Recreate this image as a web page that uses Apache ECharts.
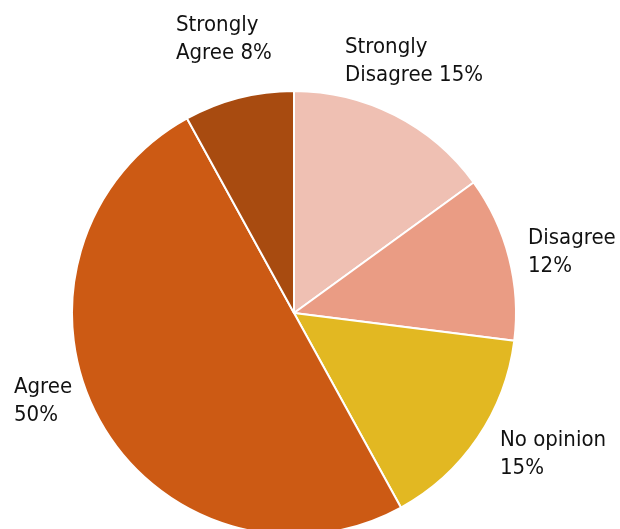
<!DOCTYPE html>
<html>
<head>
<meta charset="utf-8">
<title>Opinion survey</title>
<script src="https://cdn.jsdelivr.net/npm/echarts@6/dist/echarts.min.js"></script>
<style>
  html, body { margin: 0; padding: 0; background: #ffffff; }
  #chart { width: 620px; height: 529px; }
</style>
</head>
<body>
<div id="chart"></div>
<script>
// Survey responses, clockwise from 12 o'clock
const categories = ['Strongly Disagree', 'Disagree', 'No opinion', 'Agree', 'Strongly Agree'];
const shares = [15, 12, 15, 50, 8];
// Two-line label text for each slice
const labelLines = [
  ['Strongly', 'Disagree 15%'],
  ['Disagree', '12%'],
  ['No opinion', '15%'],
  ['Agree', '50%'],
  ['Strongly', 'Agree 8%']
];
const colors = ['#EFC0B3', '#EA9C84', '#E2B822', '#CC5A14', '#A84B10'];

// Top-left corner of each label block
const labelAnchors = [
  [345, 33],
  [528, 224],
  [500, 426],
  [14, 373],
  [176, 11]
];

const chart = echarts.init(document.getElementById('chart'), null, { renderer: 'canvas' });

chart.setOption({
  animation: false,
  backgroundColor: '#ffffff',
  series: [{
    type: 'pie',
    center: [294, 313],
    radius: [0, 222],
    startAngle: 90,
    clockwise: true,
    data: categories.map((name, i) => ({
      name: name,
      value: shares[i],
      itemStyle: { color: colors[i] }
    })),
    itemStyle: { borderColor: '#ffffff', borderWidth: 2 },
    emphasis: { disabled: true },
    label: {
      show: true,
      position: 'outside',
      formatter: p => labelLines[p.dataIndex].join('\n'),
      fontFamily: 'DejaVu Sans Condensed, DejaVu Sans, sans-serif',
      fontSize: 22,
      lineHeight: 28,
      color: '#111111',
      align: 'left',
      overflow: 'none',
      width: 300
    },
    labelLine: { show: false },
    labelLayout: p => ({
      x: labelAnchors[p.dataIndex][0],
      y: labelAnchors[p.dataIndex][1],
      align: 'left',
      verticalAlign: 'top',
      hideOverlap: false
    })
  }]
});
</script>
</body>
</html>
